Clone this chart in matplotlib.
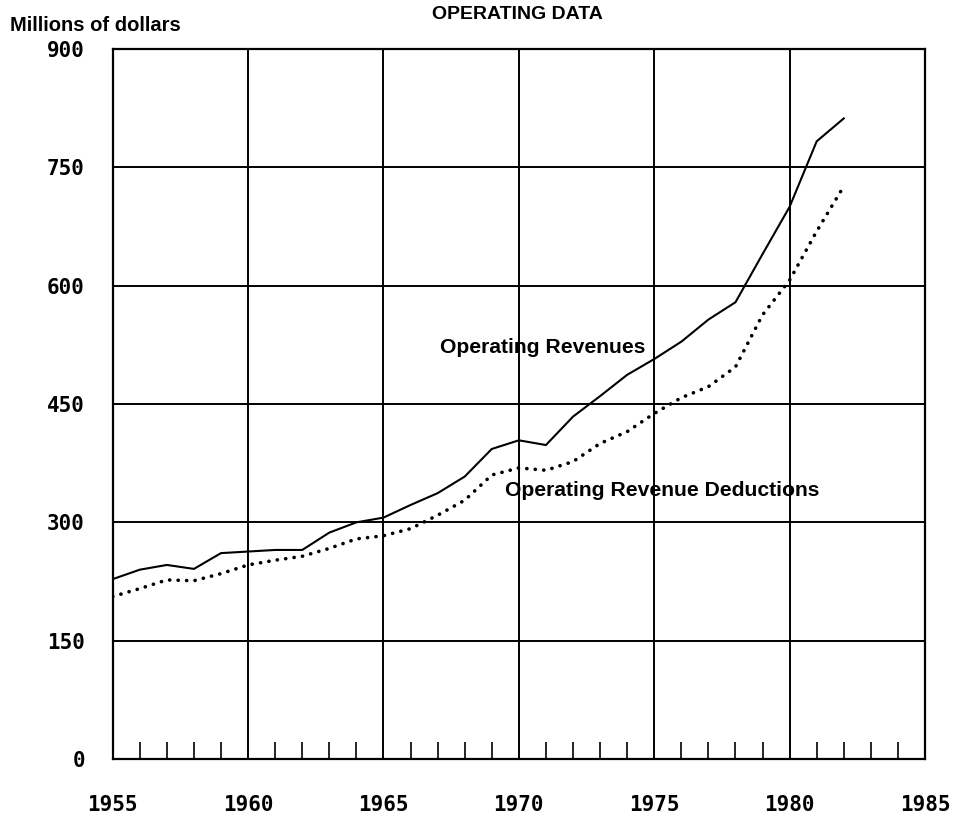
import matplotlib
matplotlib.use("Agg")
import matplotlib.pyplot as plt
from matplotlib.ticker import MultipleLocator

years = list(range(1955, 1983))
revenues = [228, 240, 246, 241, 261, 263, 265, 265, 287, 300,
            306, 322, 337, 358, 393, 404, 398, 434, 460, 487,
            507, 529, 557, 579, 640, 700, 783, 812]
deductions = [206, 216, 227, 226, 235, 246, 252, 257, 267, 279,
              283, 292, 309, 328, 360, 369, 366, 377, 400, 415,
              438, 458, 472, 497, 563, 607, 669, 726]
x_ticks = [1955, 1960, 1965, 1970, 1975, 1980, 1985]
y_ticks = [0, 150, 300, 450, 600, 750, 900]

fig = plt.figure(figsize=(9.55, 8.18), dpi=100)
ax = fig.add_axes([0.118, 0.0721, 0.8506, 0.8680])

ax.plot(years, revenues, color="black", lw=1.5, solid_joinstyle="miter")
ax.plot(years, deductions, color="black", lw=2.6,
        linestyle=(0, (0.05, 2.3)), dash_capstyle="round")

ax.set_xlim(1955, 1985)
ax.set_ylim(0, 900)
ax.set_xticks(x_ticks)
ax.set_yticks(y_ticks)
ax.xaxis.set_minor_locator(MultipleLocator(1))
ax.grid(True, which="major", color="black", lw=1.4)
ax.tick_params(axis="x", which="minor", direction="in", length=12, width=1.2, color="black")
ax.tick_params(axis="x", which="major", direction="in", length=0, pad=26)
ax.tick_params(axis="y", which="major", length=0, pad=20)
for s in ax.spines.values():
    s.set_linewidth(1.6)

tickfont = dict(family="DejaVu Sans Mono", size=15, weight="semibold")
ax.set_xticklabels([str(v) for v in x_ticks], **tickfont)
ax.set_yticklabels([str(v) for v in y_ticks], **tickfont)

fig.text(0.542, 0.982, "OPERATING DATA", ha="center", va="center",
         fontsize=14, family="Liberation Sans", weight="bold")
fig.text(0.010, 0.969, "Millions of dollars", ha="left", va="center",
         fontsize=14.5, family="Liberation Sans", weight="bold")

ax.text(1967.1, 522, "Operating Revenues", fontsize=15.2,
        family="Liberation Sans", weight="bold", va="center", ha="left")
ax.text(1969.5, 341, "Operating Revenue Deductions", fontsize=15.2,
        family="Liberation Sans", weight="bold", va="center", ha="left")

fig.savefig("out.png", dpi=100)
